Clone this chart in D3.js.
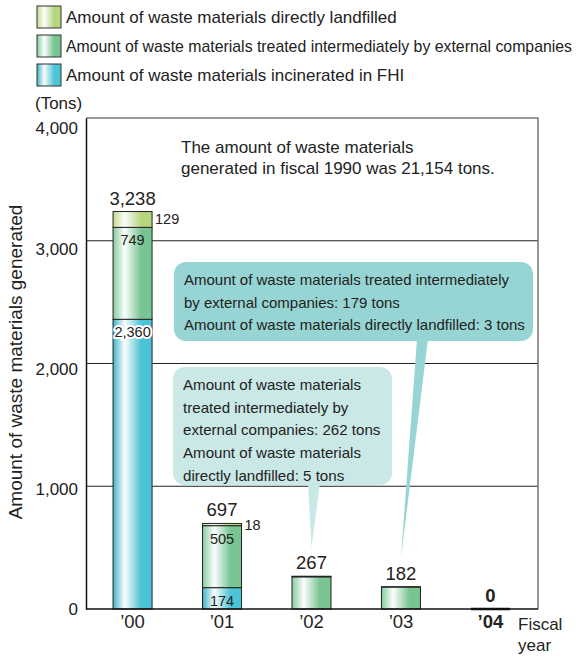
<!DOCTYPE html>
<html>
<head>
<meta charset="utf-8">
<script src="https://cdn.jsdelivr.net/npm/d3@7"></script>
<style>
  body { margin: 0; background: #fff; }
  text { font-family: "Liberation Sans", Arial, sans-serif; fill: #222; }
</style>
</head>
<body>
<script>
// data
var years = ["\u201900", "\u201901", "\u201902", "\u201903", "\u201904"]
var incinerated = [2360, 174, 0, 0, 0]
var intermediate = [749, 505, 262, 179, 0]
var landfilled = [129, 18, 5, 3, 0]
var totals = [3238, 697, 267, 182, 0]
var yTicks = [0, 1000, 2000, 3000, 4000]

var seriesKeys = ["incinerated", "intermediate", "landfilled"]
var seriesNames = {
  landfilled: "Amount of waste materials directly landfilled",
  intermediate: "Amount of waste materials treated intermediately by external companies",
  incinerated: "Amount of waste materials incinerated in FHI"
}
var colors = {
  landfilled: ["#c3dc8c", "#b6d57c"],
  intermediate: ["#86cc9f", "#78c492"],
  incinerated: ["#3db4c8", "#4cc3d6"]
}

var note = ["The amount of waste materials", "generated in fiscal 1990 was 21,154 tons."]
var callout03 = ["Amount of waste materials treated intermediately",
  "by external companies: 179 tons",
  "Amount of waste materials directly landfilled: 3 tons"]
var callout02 = ["Amount of waste materials", "treated intermediately by",
  "external companies: 262 tons", "Amount of waste materials", "directly landfilled: 5 tons"]

var width = 581, height = 657
var pLeft = 86, pRight = 538, pTop = 118, pBottom = 609

var rows = years.map(function(y, i) {
  return {year: y, incinerated: incinerated[i], intermediate: intermediate[i],
    landfilled: landfilled[i], total: totals[i], i: i}
})

var svg = d3.select("body").append("svg").attr("width", width).attr("height", height)

var x = d3.scaleBand().domain(years).range([88, 535]).paddingInner(0.564).paddingOuter(0.28)
var y = d3.scaleLinear().domain([0, 4000]).range([pBottom, pTop])
// tick labels sit a little below their gridlines in the original
var yLabel = d3.scaleLinear().domain([0, 4000]).range([pBottom + 1, 129])

// gradients
var defs = svg.append("defs")
seriesKeys.forEach(function(k) {
  var g = defs.append("linearGradient").attr("id", "g-" + k).attr("x1", 0).attr("x2", 1).attr("y1", 0).attr("y2", 0)
  g.append("stop").attr("offset", 0).attr("stop-color", colors[k][0])
  g.append("stop").attr("offset", 0.3).attr("stop-color", "#fbfdfd")
  g.append("stop").attr("offset", 0.72).attr("stop-color", colors[k][1])
  g.append("stop").attr("offset", 1).attr("stop-color", colors[k][1])
})

// legend
var legendOrder = ["landfilled", "intermediate", "incinerated"]
var legend = svg.append("g")
legendOrder.forEach(function(k, i) {
  var ly = 6 + i * 29
  legend.append("rect").attr("x", 37).attr("y", ly).attr("width", 24).attr("height", 22)
    .attr("fill", "url(#g-" + k + ")").attr("stroke", "#333").attr("stroke-width", 1)
  var t = legend.append("text").attr("x", 66).attr("y", ly + 17).attr("font-size", 17).text(seriesNames[k])
  if (k == "intermediate") t.attr("textLength", 506).attr("lengthAdjust", "spacingAndGlyphs")
})

// gridlines
svg.append("g").selectAll("line").data(yTicks.filter(function(d) { return d > 0 && d < 4000 }))
  .join("line")
  .attr("x1", pLeft).attr("x2", pRight)
  .attr("y1", function(d) { return y(d) }).attr("y2", function(d) { return y(d) })
  .attr("stroke", "#222").attr("stroke-width", 1)

// frame
svg.append("path").attr("d", "M" + pLeft + "," + pTop + "H" + pRight + "V" + pBottom)
  .attr("fill", "none").attr("stroke", "#777").attr("stroke-width", 1.5)

// y axis
var yAxis = svg.append("g").attr("transform", "translate(" + pLeft + ",0)")
  .call(d3.axisLeft(y).tickValues(yTicks).tickFormat(d3.format(",")).tickSize(0).tickPadding(8))
yAxis.select(".domain").attr("stroke", "#111").attr("stroke-width", 1.5)
yAxis.selectAll(".tick").attr("transform", function(d) { return "translate(0," + yLabel(d) + ")" })
yAxis.selectAll("text").attr("font-size", 17).attr("fill", "#333")
  .style("font-family", "Liberation Sans, Arial, sans-serif")

svg.append("text").attr("x", 35).attr("y", 109).attr("font-size", 17).attr("fill", "#333").text("(Tons)")
svg.append("text").attr("transform", "translate(22,362) rotate(-90)")
  .attr("text-anchor", "middle").attr("font-size", 19).attr("fill", "#333")
  .text("Amount of waste materials generated")

// stacked bars
var stack = d3.stack().keys(seriesKeys)(rows)
var bw = x.bandwidth()
var bars = svg.append("g")
stack.forEach(function(layer) {
  bars.append("g").selectAll("rect").data(layer.filter(function(d) { return d[1] > d[0] }))
    .join("rect")
    .attr("x", function(d) { return x(d.data.year) })
    .attr("y", function(d) { return y(d[1]) })
    .attr("width", bw)
    .attr("height", function(d) { return y(d[0]) - y(d[1]) })
    .attr("fill", "url(#g-" + layer.key + ")")
    .attr("stroke", "#222").attr("stroke-width", 1)
})

// zero bar
bars.selectAll(".zero").data(rows.filter(function(d) { return d.total == 0 }))
  .join("line").attr("class", "zero")
  .attr("x1", function(d) { return x(d.year) }).attr("x2", function(d) { return x(d.year) + bw })
  .attr("y1", y(0)).attr("y2", y(0)).attr("stroke", "#111").attr("stroke-width", 2.5)

// x axis
svg.append("line").attr("x1", pLeft).attr("x2", pRight).attr("y1", pBottom).attr("y2", pBottom)
  .attr("stroke", "#111").attr("stroke-width", 1.5)
var xAxis = svg.append("g").attr("transform", "translate(0," + pBottom + ")")
  .call(d3.axisBottom(x).tickSize(0).tickPadding(6))
xAxis.select(".domain").remove()
xAxis.selectAll("text").attr("font-size", 18.5).attr("fill", "#222")
  .style("font-family", "Liberation Sans, Arial, sans-serif")
  .attr("font-weight", function(d, i) { return i == years.length - 1 ? "bold" : null })
svg.append("text").attr("x", 518).attr("y", 630).attr("font-size", 17).text("Fiscal")
svg.append("text").attr("x", 518).attr("y", 651).attr("font-size", 17).text("year")

// total labels
svg.append("g").selectAll("text").data(rows).join("text")
  .attr("x", function(d) { return x(d.year) + bw / 2 })
  .attr("y", function(d) { return y(d.total) - 7 })
  .attr("text-anchor", "middle").attr("font-size", 18.5)
  .attr("font-weight", function(d) { return d.total == 0 ? "bold" : null })
  .text(function(d) { return d3.format(",")(d.total) })

// segment labels for bars with several segments
var multi = rows.filter(function(d) { return d.incinerated > 0 })
var segLabels = svg.append("g")
;["incinerated", "intermediate"].forEach(function(k) {
  var layer = stack[seriesKeys.indexOf(k)]
  segLabels.selectAll(".s-" + k).data(multi).join("text").attr("class", "s-" + k)
    .attr("x", function(d) { return x(d.year) + bw / 2 })
    .attr("y", function(d) { return y(layer[d.i][1]) + 18 })
    .attr("text-anchor", "middle").attr("font-size", 14.5)
    .attr("stroke", "#fff")
    .attr("stroke-width", function(d) { return k == "incinerated" && d.i == 0 ? 4 : 0 })
    .attr("paint-order", "stroke")
    .text(function(d) { return d3.format(",")(d[k]) })
})
var lf = stack[seriesKeys.indexOf("landfilled")]
segLabels.selectAll(".s-landfilled").data(multi).join("text").attr("class", "s-landfilled")
  .attr("x", function(d) { return x(d.year) + bw + 3 })
  .attr("y", function(d) { return (y(lf[d.i][0]) + y(lf[d.i][1])) / 2 + 5 })
  .attr("font-size", 14.5)
  .text(function(d) { return d3.format(",")(d.landfilled) })

// note
note.forEach(function(s, i) {
  svg.append("text").attr("x", 181).attr("y", 153 + i * 21).attr("font-size", 17).text(s)
})

// callouts
function callout(lines, box, base, yearIdx, fill, lineGap, target) {
  var g = svg.append("g")
  var tx = x(years[yearIdx]) + bw / 2
  var ty = y(totals[yearIdx]) - 29
  g.append("path").attr("d", "M" + base[0] + "," + (box.y + box.h - 2) + "L" + tx + "," + ty + "L" + base[1] + "," + (box.y + box.h - 2) + "Z")
    .attr("fill", fill)
  g.append("rect").attr("x", box.x).attr("y", box.y).attr("width", box.w).attr("height", box.h)
    .attr("rx", 12).attr("fill", fill)
  var texts = lines.map(function(s, i) {
    return g.append("text").attr("x", box.x + 10).attr("y", box.y + 23 + i * lineGap)
      .attr("font-size", 15).attr("fill", "#1a1a1a").text(s)
  })
  var ratio = target / texts[0].node().getComputedTextLength()
  texts.forEach(function(t) {
    t.attr("textLength", t.node().getComputedTextLength() * ratio).attr("lengthAdjust", "spacingAndGlyphs")
  })
}
callout(callout03, {x: 174, y: 262, w: 359, h: 79}, [417, 428], 3, "#96d5d3", 22.5, 325)
callout(callout02, {x: 173, y: 367, w: 219, h: 118}, [308, 320], 2, "#c9e8e6", 22.7, 178)
</script>
</body>
</html>
